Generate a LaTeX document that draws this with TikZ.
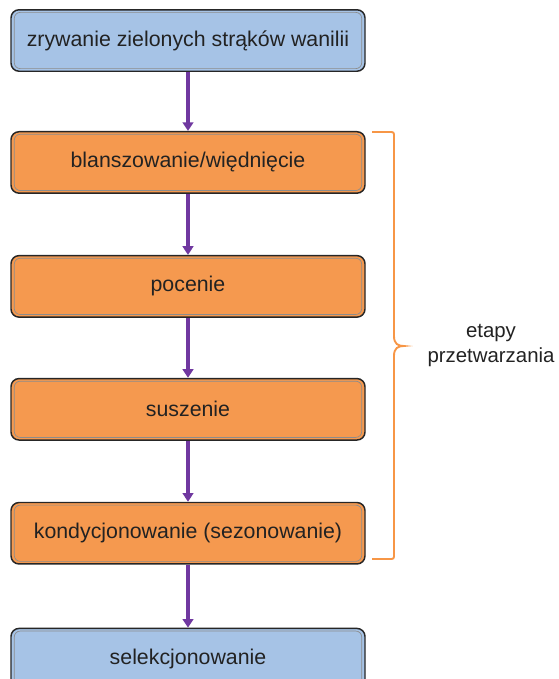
\documentclass[tikz,border=0pt]{standalone}
\usepackage{fontspec}
\setmainfont{Liberation Sans}
\usetikzlibrary{arrows.meta,positioning}
\definecolor{boxblue}{HTML}{A6C3E6}
\definecolor{boxorange}{HTML}{F5994F}
\definecolor{arrowpurple}{HTML}{7038A0}
\definecolor{braceorange}{HTML}{F79646}
\definecolor{textgray}{HTML}{222222}

\begin{document}
\begin{tikzpicture}[
    x=0.75pt, y=-0.75pt,
    box/.style={
        rectangle,
        draw=black!85,
        line width=1.1pt,
        rounded corners=6pt,
        minimum width=265.5pt,
        minimum height=46.1pt,
        align=center,
        text=textgray,
        font=\fontsize{16}{19}\selectfont
    },
    bevel/.style={
        draw=black!45,
        line width=0.5pt,
        rounded corners=4.5pt
    },
    arrow/.style={
        -{Triangle[width=8pt,length=6.5pt]},
        line width=2.6pt,
        draw=arrowpurple
    },
    bracket/.style={
        draw=braceorange,
        line width=1.4pt
    }
]
\useasboundingbox (0,0) rectangle (559,679);

% Steps
\node[box, fill=boxblue] (zry) at (188,40.5) {zrywanie zielonych strąków wanilii};
\node[box, fill=boxorange, below=44.25pt of zry] (blan) {blanszowanie/więdnięcie};
\node[box, fill=boxorange, below=45.75pt of blan] (poc) {pocenie};
\node[box, fill=boxorange, below=45pt of poc] (susz) {suszenie};
\node[box, fill=boxorange, below=45.75pt of susz] (kond) {kondycjonowanie (sezonowanie)};
\node[box, fill=boxblue, below=47.25pt of kond] (sel) {selekcjonowanie};

% Inner edge of the boxes
\foreach \n in {zry,blan,poc,susz,kond,sel}
    \draw[bevel] ([shift={(3pt,-2.5pt)}]\n.north west) rectangle ([shift={(-3pt,2.5pt)}]\n.south east);

% Arrows
\draw[arrow] (zry) -- (blan);
\draw[arrow] (blan) -- (poc);
\draw[arrow] (poc) -- (susz);
\draw[arrow] (susz) -- (kond);
\draw[arrow] (kond) -- (sel);

% Bracket
\draw[bracket] (372,132) -- (389,132) .. controls (394,132) .. (394,137)
    -- (394,336) .. controls (394,344) and (398,346) .. (404,346)
    .. controls (398,346) and (394,348) .. (394,356)
    -- (394,554) .. controls (394,559) .. (389,559) -- (372,559);
\node[align=center, text=textgray, font=\fontsize{15.3}{18.75}\selectfont] (etapy) at (491,345.5) {etapy\\przetwarzania};

\end{tikzpicture}
\end{document}
